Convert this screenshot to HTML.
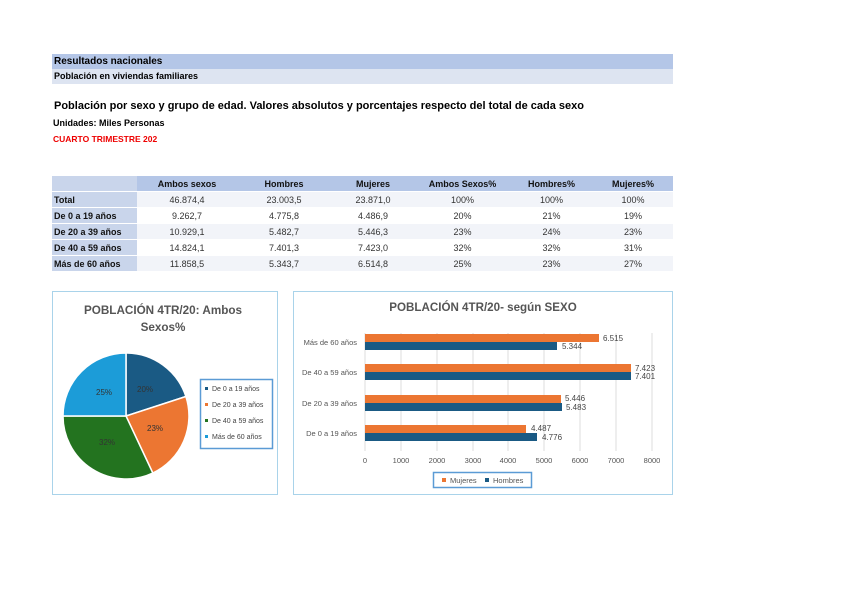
<!DOCTYPE html><html><head><meta charset="utf-8"><style>
body{margin:0;width:848px;height:599px;background:#fff;position:relative;font-family:"Liberation Sans",sans-serif;overflow:hidden}
.a{position:absolute;white-space:nowrap}
table{position:absolute;left:52px;top:176px;border-collapse:collapse;font-size:9px}
td{height:15px;padding:0;text-align:center;color:#333;border-bottom:1px solid #fff}
td.h{background:#b4c6e7;font-weight:bold;color:#111}
td.l{background:#c9d5eb;font-weight:bold;text-align:left;padding-left:2px;color:#111}
tr:nth-child(even) td:not(.l){background:#f2f4f9}
</style></head><body>
<div class="a" style="left:52px;top:54px;width:621px;height:15px;background:#b4c6e7;font-size:10px;font-weight:bold;line-height:15px;padding-left:2px;box-sizing:border-box">Resultados nacionales</div>
<div class="a" style="left:52px;top:69px;width:621px;height:15px;background:#dde4f1;font-size:9px;font-weight:bold;line-height:15px;padding-left:2px;box-sizing:border-box">Población en viviendas familiares</div>
<div class="a" style="left:54px;top:100px;font-size:11px;font-weight:bold">Población por sexo y grupo de edad. Valores absolutos y porcentajes respecto del total de cada sexo</div>
<div class="a" style="left:53px;top:118px;font-size:9px;font-weight:bold">Unidades: Miles Personas</div>
<div class="a" style="left:53px;top:134px;font-size:8.5px;font-weight:bold;color:#e00">CUARTO TRIMESTRE 202</div>
<table>
<tr><td class="h" style="width:85px;background:#c9d5eb"></td><td class="h" style="width:100px">Ambos sexos</td><td class="h" style="width:94px">Hombres</td><td class="h" style="width:84px">Mujeres</td><td class="h" style="width:95px">Ambos Sexos%</td><td class="h" style="width:83px">Hombres%</td><td class="h" style="width:80px">Mujeres%</td></tr>
<tr><td class="l">Total</td><td>46.874,4</td><td>23.003,5</td><td>23.871,0</td><td>100%</td><td>100%</td><td>100%</td></tr>
<tr><td class="l">De 0 a 19 años</td><td>9.262,7</td><td>4.775,8</td><td>4.486,9</td><td>20%</td><td>21%</td><td>19%</td></tr>
<tr><td class="l">De 20 a 39 años</td><td>10.929,1</td><td>5.482,7</td><td>5.446,3</td><td>23%</td><td>24%</td><td>23%</td></tr>
<tr><td class="l">De 40 a 59 años</td><td>14.824,1</td><td>7.401,3</td><td>7.423,0</td><td>32%</td><td>32%</td><td>31%</td></tr>
<tr><td class="l">Más de 60 años</td><td>11.858,5</td><td>5.343,7</td><td>6.514,8</td><td>25%</td><td>23%</td><td>27%</td></tr>
</table>
<svg class="a" style="left:0;top:0" width="848" height="599" font-family="Liberation Sans, sans-serif">
<rect x="52.5" y="291.5" width="225" height="203" fill="#fff" stroke="#a9d3ea"/>
<text x="163" y="314" text-anchor="middle" font-size="11.7" font-weight="bold" fill="#555">POBLACIÓN 4TR/20: Ambos</text>
<text x="163" y="331" text-anchor="middle" font-size="11.7" font-weight="bold" fill="#555">Sexos%</text>
<g stroke="#fff" stroke-width="1.5">
<path d="M126,416 L126,353 A63,63 0 0,1 185.9,396.5 Z" fill="#1a5a84"/>
<path d="M126,416 L185.9,396.5 A63,63 0 0,1 152.8,473 Z" fill="#ec7632"/>
<path d="M126,416 L152.8,473 A63,63 0 0,1 63,416 Z" fill="#23731f"/>
<path d="M126,416 L63,416 A63,63 0 0,1 126,353 Z" fill="#1c9cd8"/>
</g>
<g font-size="8" fill="#333"><text x="137" y="392">20%</text><text x="147" y="431">23%</text><text x="99" y="445">32%</text><text x="96" y="395">25%</text></g>
<rect x="200.5" y="379.5" width="72" height="69" fill="#fff" stroke="#5b9bd5" stroke-width="1.5"/>
<g font-size="7" fill="#444">
<rect x="205" y="387" width="3" height="3" fill="#1a5a84"/><text x="212" y="391">De 0 a 19 años</text>
<rect x="205" y="403" width="3" height="3" fill="#ec7632"/><text x="212" y="407">De 20 a 39 años</text>
<rect x="205" y="419" width="3" height="3" fill="#23731f"/><text x="212" y="423">De 40 a 59 años</text>
<rect x="205" y="435" width="3" height="3" fill="#1c9cd8"/><text x="212" y="439">Más de 60 años</text>
</g>
<rect x="293.5" y="291.5" width="379" height="203" fill="#fff" stroke="#a9d3ea"/>
<text x="483" y="311" text-anchor="middle" font-size="11.6" font-weight="bold" fill="#555">POBLACIÓN 4TR/20- según SEXO</text>
<g stroke="#ddd" stroke-width="1">
<line x1="365" y1="333" x2="365" y2="451"/><line x1="401" y1="333" x2="401" y2="451"/><line x1="437" y1="333" x2="437" y2="451"/><line x1="473" y1="333" x2="473" y2="451"/><line x1="508" y1="333" x2="508" y2="451"/><line x1="544" y1="333" x2="544" y2="451"/><line x1="580" y1="333" x2="580" y2="451"/><line x1="616" y1="333" x2="616" y2="451"/><line x1="652" y1="333" x2="652" y2="451"/>
</g>
<g font-size="7.5" fill="#555" text-anchor="middle">
<text x="365" y="463">0</text><text x="401" y="463">1000</text><text x="437" y="463">2000</text><text x="473" y="463">3000</text><text x="508" y="463">4000</text><text x="544" y="463">5000</text><text x="580" y="463">6000</text><text x="616" y="463">7000</text><text x="652" y="463">8000</text>
</g>
<g font-size="7.5" fill="#555" text-anchor="end">
<text x="357" y="345">Más de 60 años</text><text x="357" y="375">De 40 a 59 años</text><text x="357" y="406">De 20 a 39 años</text><text x="357" y="436">De 0 a 19 años</text>
</g>
<g>
<rect x="365" y="334" width="234" height="8" fill="#ec7632"/><rect x="365" y="342" width="192" height="8" fill="#1a5a84"/>
<rect x="365" y="364" width="266" height="8" fill="#ec7632"/><rect x="365" y="372" width="266" height="8" fill="#1a5a84"/>
<rect x="365" y="395" width="196" height="8" fill="#ec7632"/><rect x="365" y="403" width="197" height="8" fill="#1a5a84"/>
<rect x="365" y="425" width="161" height="8" fill="#ec7632"/><rect x="365" y="433" width="172" height="8" fill="#1a5a84"/>
</g>
<g font-size="8" fill="#444">
<text x="603" y="341">6.515</text><text x="562" y="349">5.344</text>
<text x="635" y="371">7.423</text><text x="635" y="379">7.401</text>
<text x="565" y="401">5.446</text><text x="566" y="410">5.483</text>
<text x="531" y="431">4.487</text><text x="542" y="440">4.776</text>
</g>
<rect x="433.5" y="472.5" width="98" height="15" fill="#fff" stroke="#5b9bd5" stroke-width="1.5"/>
<rect x="442" y="478" width="4" height="4" fill="#ec7632"/><text x="450" y="483" font-size="7.5" fill="#555">Mujeres</text>
<rect x="485" y="478" width="4" height="4" fill="#1a5a84"/><text x="493" y="483" font-size="7.5" fill="#555">Hombres</text>
</svg>
</body></html>
